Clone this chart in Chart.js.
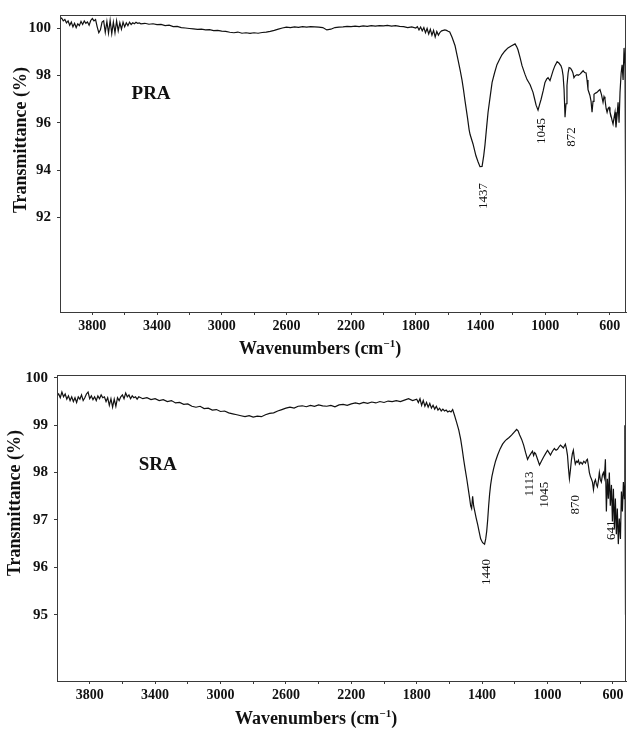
<!DOCTYPE html>
<html>
<head>
<meta charset="utf-8">
<title>FTIR PRA / SRA</title>
<script src="https://cdn.jsdelivr.net/npm/chart.js@4.4.1/dist/chart.umd.min.js"></script>
<style>
  html, body { margin: 0; padding: 0; background: #fff; }
  canvas { display: block; }
</style>
</head>
<body>
<canvas id="praChart" width="627" height="360"></canvas>
<canvas id="sraChart" width="627" height="370"></canvas>
<script>
const praSpectrum = [
  [4000,100.38],[3990,100.42],[3980,100.30],[3970,100.36],[3960,100.22],[3950,100.30],[3940,100.12],[3930,100.25],
  [3920,100.05],[3910,100.20],[3900,100.02],[3890,100.18],[3880,100.10],[3870,100.28],[3860,100.15],[3850,100.30],
  [3840,100.20],[3830,100.26],[3820,100.12],[3810,100.32],[3800,100.40],[3790,100.30],[3780,100.36],[3770,100.05],
  [3760,99.80],[3750,99.92],[3740,100.25],[3730,100.30],[3720,99.82],[3710,100.28],[3700,99.78],[3690,100.32],
  [3680,99.76],[3670,100.25],[3660,99.80],[3650,100.30],[3640,99.88],[3630,100.22],[3620,99.95],[3610,100.25],
  [3600,100.05],[3590,100.22],[3580,100.10],[3570,100.25],[3560,100.15],[3550,100.22],[3540,100.18],[3530,100.24],
  [3520,100.20],[3510,100.22],[3500,100.18],
  [3475,100.20],[3450,100.16],[3425,100.18],[3400,100.14],[3375,100.15],[3350,100.10],[3325,100.12],[3300,100.06],
  [3275,100.07],[3250,100.02],[3225,100.00],[3200,99.98],[3175,99.96],[3150,99.94],[3125,99.95],[3100,99.92],
  [3075,99.93],[3050,99.89],[3025,99.90],[3000,99.87],[2975,99.86],[2950,99.82],[2925,99.80],[2900,99.83],
  [2875,99.78],[2850,99.80],[2825,99.77],[2800,99.80],[2775,99.78],[2750,99.81],[2725,99.83],[2700,99.86],
  [2675,99.90],[2650,99.95],[2625,100.00],[2600,100.04],[2575,100.02],[2550,100.05],[2525,100.03],[2500,100.06],
  [2475,100.04],[2450,100.06],[2425,100.05],[2400,100.04],[2375,100.02],[2350,99.92],[2325,99.95],[2300,100.02],
  [2275,100.04],[2250,100.05],[2225,100.07],[2200,100.06],[2175,100.08],[2150,100.06],[2125,100.09],[2100,100.07],
  [2075,100.10],[2050,100.08],[2025,100.10],[2000,100.09],[1975,100.11],[1950,100.08],[1925,100.10],[1900,100.07],
  [1875,100.06],[1850,100.02],[1825,100.05],[1800,100.00],
  [1790,100.06],[1780,99.92],[1770,100.04],[1760,99.88],[1750,100.02],[1740,99.80],[1730,99.98],[1720,99.75],
  [1710,99.95],[1700,99.70],[1690,99.90],[1680,99.62],[1670,99.85],[1660,99.70],[1650,99.82],[1640,99.88],
  [1630,99.90],[1620,99.92],[1610,99.90],[1600,99.86],[1590,99.83],
  [1575,99.60],[1557,99.25],[1539,98.66],[1525,98.20],[1514,97.80],[1505,97.40],[1495,96.90],[1480,96.20],
  [1470,95.70],[1464,95.50],[1455,95.30],[1446,95.10],[1437,94.85],[1428,94.60],[1415,94.35],[1403,94.14],
  [1390,94.15],[1380,94.60],[1372,95.06],[1362,95.80],[1353,96.44],[1340,97.10],[1328,97.70],[1313,98.10],
  [1298,98.45],[1280,98.70],[1267,98.87],[1250,99.02],[1230,99.16],[1210,99.24],[1186,99.33],[1175,99.20],
  [1168,99.08],[1155,98.75],[1143,98.41],[1125,98.05],[1112,97.82],[1093,97.60],[1075,97.28],[1065,97.00],
  [1056,96.74],[1044,96.53],[1035,96.75],[1025,96.99],[1012,97.35],[1001,97.70],[990,97.85],[982,97.90],
  [970,97.78],[960,98.00],[951,98.20],[940,98.40],[926,98.58],[915,98.52],[902,98.40],[895,98.25],
  [889,97.99],[883,97.40],[877,96.23],[871,96.80],[865,97.57],[858,98.10],[852,98.33],[843,98.30],
  [834,98.20],[828,98.10],[822,97.90],[815,97.98],[803,98.03],[795,98.00],[784,98.05],[775,98.12],
  [765,98.20],[756,98.12],[747,98.10],[741,97.80],[735,97.40],[723,97.15],[716,96.90],[710,96.44],
  [704,96.90],[698,97.20],[688,97.25],[679,97.28],[670,97.35],[661,97.40],[652,97.20],[642,96.86],
  [636,97.10],[630,96.99],[623,96.60],[617,96.44],[611,96.60],[605,96.65],[599,96.45],[593,96.30],
  [586,96.10],[580,95.94],[574,96.20],[568,96.44],[562,95.80],[555,96.30],[549,96.86],[543,96.00],
  [537,97.28],[530,98.10],[524,98.45],[518,97.80],[512,99.16],[506,98.40],[501,90.60]
];

const sraSpectrum = [
  [4000,99.62],[3990,99.66],[3980,99.58],[3970,99.70],[3960,99.60],[3950,99.66],[3940,99.55],[3930,99.62],
  [3920,99.52],[3910,99.60],[3900,99.50],[3890,99.58],[3880,99.48],[3870,99.60],[3860,99.55],[3850,99.64],
  [3840,99.52],[3830,99.58],[3820,99.66],[3810,99.70],[3800,99.56],[3790,99.62],[3780,99.54],[3770,99.60],
  [3760,99.52],[3750,99.62],[3740,99.56],[3730,99.64],[3720,99.58],[3710,99.60],[3700,99.50],[3690,99.58],
  [3680,99.42],[3670,99.56],[3660,99.38],[3650,99.55],[3640,99.40],[3630,99.58],[3620,99.52],[3610,99.60],
  [3600,99.64],[3590,99.56],[3580,99.68],[3570,99.60],[3560,99.64],[3550,99.56],[3540,99.62],[3530,99.58],
  [3520,99.60],[3510,99.55],[3500,99.60],
  [3475,99.56],[3450,99.58],[3425,99.54],[3400,99.56],[3375,99.52],[3350,99.54],[3325,99.50],[3300,99.52],
  [3275,99.47],[3250,99.48],[3225,99.44],[3200,99.45],[3175,99.40],[3150,99.38],[3125,99.40],[3100,99.35],
  [3075,99.36],[3050,99.32],[3025,99.33],[3000,99.29],[2975,99.30],[2950,99.26],[2925,99.24],[2900,99.22],
  [2875,99.20],[2850,99.18],[2825,99.20],[2800,99.17],[2775,99.19],[2750,99.18],[2725,99.22],[2700,99.25],
  [2675,99.26],[2650,99.30],[2625,99.33],[2600,99.36],[2575,99.38],[2550,99.36],[2525,99.40],[2500,99.41],
  [2475,99.39],[2450,99.42],[2425,99.40],[2400,99.43],[2375,99.41],[2350,99.40],[2325,99.42],[2300,99.39],
  [2275,99.43],[2250,99.44],[2225,99.42],[2200,99.45],[2175,99.47],[2150,99.45],[2125,99.48],[2100,99.46],
  [2075,99.49],[2050,99.47],[2025,99.50],[2000,99.48],[1975,99.51],[1950,99.50],[1925,99.52],[1900,99.50],
  [1875,99.53],[1850,99.56],[1825,99.52],[1800,99.55],
  [1790,99.48],[1780,99.56],[1770,99.42],[1760,99.52],[1750,99.40],[1740,99.48],[1730,99.38],[1720,99.46],
  [1710,99.36],[1700,99.42],[1690,99.34],[1680,99.40],[1670,99.32],[1660,99.36],[1650,99.30],[1640,99.34],
  [1630,99.30],[1620,99.32],[1610,99.28],[1600,99.30],[1590,99.28],[1580,99.33],
  [1568,99.20],[1556,99.06],[1543,98.90],[1531,98.70],[1522,98.50],[1513,98.28],[1504,98.08],[1494,97.87],
  [1485,97.66],[1476,97.45],[1470,97.30],[1464,97.24],[1458,97.50],[1452,97.30],[1446,97.20],[1437,97.05],
  [1427,96.90],[1418,96.75],[1409,96.60],[1397,96.52],[1385,96.49],[1378,96.60],[1372,96.76],[1366,97.00],
  [1360,97.30],[1354,97.55],[1348,97.74],[1340,97.92],[1330,98.08],[1318,98.24],[1305,98.37],[1290,98.50],
  [1275,98.60],[1262,98.66],[1250,98.70],[1235,98.74],[1220,98.79],[1205,98.85],[1189,98.91],[1180,98.88],
  [1171,98.80],[1158,98.70],[1146,98.58],[1134,98.42],[1122,98.28],[1113,98.34],[1104,98.39],[1092,98.45],
  [1085,98.36],[1079,98.42],[1073,98.40],[1061,98.28],[1049,98.16],[1036,98.25],[1024,98.33],[1012,98.40],
  [1000,98.47],[991,98.42],[982,98.37],[970,98.45],[958,98.51],[948,98.47],[939,98.49],[930,98.54],
  [921,98.58],[912,98.55],[903,98.52],[897,98.56],[891,98.60],[884,98.50],[878,98.37],[872,98.10],
  [866,97.87],[860,98.05],[854,98.26],[848,98.40],[842,98.47],[836,98.30],[830,98.18],[823,98.24],
  [817,98.22],[811,98.26],[805,98.18],[796,98.22],[787,98.18],[778,98.24],[768,98.20],[762,98.26],
  [756,98.28],[750,98.15],[744,98.00],[738,97.92],[732,97.87],[725,97.80],[719,97.64],[713,97.80],
  [707,97.85],[701,97.75],[695,97.70],[689,97.82],[683,98.00],[677,97.85],[671,97.80],[664,97.95],
  [658,98.00],[652,97.90],[646,98.28],[640,97.18],[634,97.87],[628,97.45],[622,98.00],[616,97.30],
  [609,97.74],[603,96.97],[597,97.66],[591,96.82],[585,97.45],[579,96.70],[573,97.24],[567,96.49],
  [561,97.03],[554,96.60],[548,97.60],[542,97.18],[536,97.80],[530,97.45],[527,99.00],[523,95.00]
];

// ejes
const xTickValues = [3800, 3600, 3400, 3200, 3000, 2800, 2600, 2400, 2200, 2000, 1800, 1600, 1400, 1200, 1000, 800, 600];
const xLabelValues = [3800, 3400, 3000, 2600, 2200, 1800, 1400, 1000, 600];
const praYTicks = [92, 94, 96, 98, 100];
const sraYTicks = [95, 96, 97, 98, 99, 100];

// etiquetas de picos (texto, posicion en cm-1, posicion en %T)
const praPeakLabels = ['1437', '1045', '872'];
const praPeakWn = [1378, 1025, 834];
const praPeakT = [92.9, 95.65, 95.4];
const sraPeakLabels = ['1440', '1113', '1045', '870', '641'];
const sraPeakWn = [1372, 1109, 1017, 827, 607];
const sraPeakT = [95.9, 97.76, 97.53, 97.32, 96.78];

const serif = '"Liberation Serif", "Times New Roman", serif';
const ink = '#111';
const frameColor = '#3a3a3a';

// Plugin: marco, titulos de ejes, nombre de muestra y numeros de picos
const spectrumDecor = {
  id: 'spectrumDecor',
  afterDraw(chart, args, opts) {
    const { ctx, chartArea: a, scales } = chart;
    const xs = scales.x, ys = scales.y;
    ctx.save();

    // marco completo
    ctx.strokeStyle = frameColor;
    ctx.lineWidth = 1;
    ctx.strokeRect(a.left + 0.5, a.top + 0.5, a.right - a.left - 1, a.bottom - a.top);

    ctx.fillStyle = ink;

    // nombre de la muestra
    ctx.font = 'bold 19px ' + serif;
    ctx.textAlign = 'center';
    ctx.textBaseline = 'middle';
    ctx.fillText(opts.sample, xs.getPixelForValue(opts.sampleWn), ys.getPixelForValue(opts.sampleT));

    // numeros de picos (rotados)
    ctx.font = '13px ' + serif;
    opts.peakLabels.forEach((txt, i) => {
      const px = xs.getPixelForValue(opts.peakWn[i]);
      const py = ys.getPixelForValue(opts.peakT[i]);
      ctx.save();
      ctx.translate(px, py);
      ctx.rotate(-Math.PI / 2);
      ctx.fillText(txt, 0, 0);
      ctx.restore();
    });

    // titulo eje Y
    ctx.save();
    ctx.font = 'bold 18px ' + serif;
    ctx.translate(opts.yTitleX, opts.yTitleY);
    ctx.rotate(-Math.PI / 2);
    ctx.fillText('Transmittance (%)', 0, 0);
    ctx.restore();

    // titulo eje X con superindice
    const main = 'Wavenumbers (cm';
    const sup = '\u22121';
    const close = ')';
    ctx.textAlign = 'left';
    ctx.textBaseline = 'alphabetic';
    ctx.font = 'bold 18px ' + serif;
    const wMain = ctx.measureText(main).width;
    const wClose = ctx.measureText(close).width;
    ctx.font = 'bold 11px ' + serif;
    const wSup = ctx.measureText(sup).width;
    let x0 = opts.xTitleX - (wMain + wSup + wClose) / 2;
    ctx.font = 'bold 18px ' + serif;
    ctx.fillText(main, x0, opts.xTitleBase);
    ctx.font = 'bold 11px ' + serif;
    ctx.fillText(sup, x0 + wMain, opts.xTitleBase - 7);
    ctx.font = 'bold 18px ' + serif;
    ctx.fillText(close, x0 + wMain + wSup, opts.xTitleBase);

    ctx.restore();
  }
};

function makeSpectrum(canvasId, cfg) {
  const ctx = document.getElementById(canvasId).getContext('2d');
  return new Chart(ctx, {
    type: 'line',
    data: {
      datasets: [{
        data: cfg.points.map(p => ({ x: p[0], y: p[1] })),
        borderColor: '#111',
        borderWidth: 1.2,
        pointRadius: 0,
        tension: 0,
        fill: false
      }]
    },
    options: {
      responsive: false,
      animation: false,
      events: [],
      layout: { padding: { top: cfg.padTop, right: 1, left: 0, bottom: 0 } },
      plugins: {
        legend: { display: false },
        tooltip: { enabled: false },
        spectrumDecor: cfg.decor
      },
      scales: {
        x: {
          type: 'linear',
          reverse: true,
          min: cfg.xMin,
          max: 4000,
          afterBuildTicks: s => { s.ticks = xTickValues.map(v => ({ value: v })); },
          afterFit: s => { s.height = cfg.xHeight; },
          ticks: {
            autoSkip: false,
            maxRotation: 0,
            padding: 3,
            color: ink,
            font: { family: serif, size: 14, weight: 'bold' },
            callback: v => xLabelValues.includes(v) ? String(v) : ''
          },
          grid: { drawOnChartArea: false, drawTicks: true, tickLength: 3, color: frameColor },
          border: { display: true, color: frameColor, width: 1 }
        },
        y: {
          type: 'linear',
          min: cfg.yMin,
          max: cfg.yMax,
          afterBuildTicks: s => { s.ticks = cfg.yTicks.map(v => ({ value: v })); },
          afterFit: s => { s.width = cfg.yWidth; },
          ticks: {
            padding: 6,
            color: ink,
            font: { family: serif, size: 15, weight: 'bold' }
          },
          grid: { drawOnChartArea: false, drawTicks: true, tickLength: 3, color: frameColor },
          border: { display: true, color: frameColor, width: 1 }
        }
      }
    },
    plugins: [spectrumDecor]
  });
}

makeSpectrum('praChart', {
  points: praSpectrum,
  xMin: 500, yMin: 88, yMax: 100.55,
  yTicks: praYTicks,
  padTop: 12, xHeight: 48, yWidth: 60,
  decor: {
    sample: 'PRA', sampleWn: 3437, sampleT: 97.2,
    peakLabels: praPeakLabels, peakWn: praPeakWn, peakT: praPeakT,
    yTitleX: 21, yTitleY: 140,
    xTitleX: 320, xTitleBase: 354
  }
});

makeSpectrum('sraChart', {
  points: sraSpectrum,
  xMin: 520, yMin: 93.6, yMax: 100.06,
  yTicks: sraYTicks,
  padTop: 12, xHeight: 49, yWidth: 57,
  decor: {
    sample: 'SRA', sampleWn: 3384, sampleT: 98.16,
    peakLabels: sraPeakLabels, peakWn: sraPeakWn, peakT: sraPeakT,
    yTitleX: 15, yTitleY: 143,
    xTitleX: 316, xTitleBase: 364
  }
});
</script>
</body>
</html>
